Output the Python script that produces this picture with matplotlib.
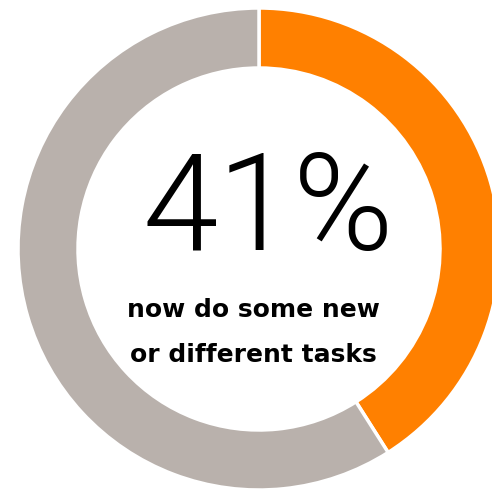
import matplotlib
matplotlib.use("Agg")
import matplotlib.pyplot as plt

# Share of respondents
labels = ["new or different tasks", "other"]
values = [41, 59]
colors = ["#FF8000", "#B9B1AC"]
headline = "41%"
caption_lines = ["now do some new", "or different tasks"]

fig = plt.figure(figsize=(4.92, 4.92), dpi=100)
ax = fig.add_axes([0, 0, 1, 1])
ax.set_xlim(0, 492)
ax.set_ylim(0, 492)
ax.set_aspect("equal")
ax.axis("off")

ax.pie(values, colors=colors, startangle=90, counterclock=False,
       radius=241, center=(259, 243),
       wedgeprops=dict(width=60, edgecolor="white", linewidth=2.5))
ax.set_xlim(0, 492)
ax.set_ylim(0, 492)

ax.text(268, 242, headline, ha="center", va="baseline",
        fontsize=98, family=["Roboto", "DejaVu Sans"], fontweight=300,
        color="black")
ax.text(253, 175, caption_lines[0], ha="center", va="baseline",
        fontsize=18, family=["DejaVu Sans"], fontweight="bold", color="black")
ax.text(253, 130, caption_lines[1], ha="center", va="baseline",
        fontsize=18, family=["DejaVu Sans"], fontweight="bold", color="black")

fig.savefig("out.png", dpi=100, facecolor="white")
